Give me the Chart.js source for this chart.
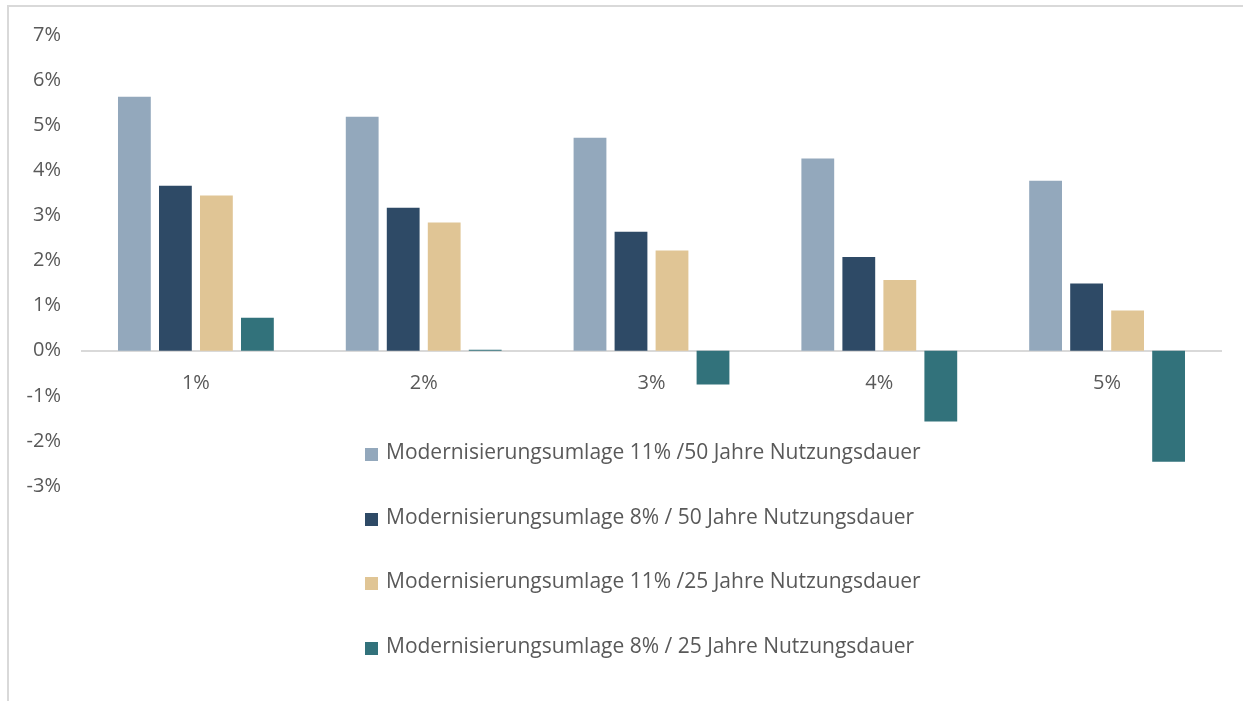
<!DOCTYPE html>
<html>
<head>
<meta charset="utf-8">
<script src="https://cdn.jsdelivr.net/npm/chart.js@4/dist/chart.umd.min.js"></script>
<style>
  html, body { margin: 0; padding: 0; background: #fff; }
  #wrap { position: relative; width: 1243px; height: 701px; overflow: hidden; }
  #frame { position: absolute; left: 7px; top: 5px; width: 1300px; height: 800px;
           border-left: 2px solid #d9d9d9; border-top: 2px solid #d9d9d9; box-sizing: border-box; }
  #chart { position: absolute; left: 0; top: 0; }
  #legend { position: absolute; left: 365px; top: 437px; font-family: "Open Sans", sans-serif;
            font-size: 21px; color: #595959; }
  .item { height: 64.5px; display: flex; align-items: flex-start; white-space: nowrap; }
  .box { width: 13px; height: 13px; margin-right: 8px; margin-top: 11px; }
</style>
</head>
<body>
<div id="wrap">
  <div id="frame"></div>
  <canvas id="chart" width="1243" height="701"></canvas>
  <div id="legend"></div>
</div>
<script>
// categories (interest rate)
const categories = ['1%', '2%', '3%', '4%', '5%'];

// series values in percent
const umlage11_50 = [5.63, 5.19, 4.72, 4.26, 3.77];
const umlage8_50 = [3.66, 3.17, 2.64, 2.08, 1.49];
const umlage11_25 = [3.44, 2.84, 2.22, 1.57, 0.89];
const umlage8_25 = [0.73, 0.02, -0.75, -1.57, -2.46];

const seriesNames = [
  'Modernisierungsumlage 11% /50 Jahre Nutzungsdauer',
  'Modernisierungsumlage 8% / 50 Jahre Nutzungsdauer',
  'Modernisierungsumlage 11% /25 Jahre Nutzungsdauer',
  'Modernisierungsumlage 8% / 25 Jahre Nutzungsdauer'
];
const seriesColors = ['#93a8bc', '#2e4a66', '#e0c595', '#32727b'];

const yMin = -3, yMax = 7;

const allValues = [umlage11_50, umlage8_50, umlage11_25, umlage8_25];
const datasets = allValues.map((vals, i) => ({
  label: seriesNames[i],
  data: vals,
  backgroundColor: seriesColors[i],
  categoryPercentage: 0.72,
  barPercentage: 0.8
}));

const tickFont = { family: '"Open Sans", sans-serif', size: 20 };

new Chart(document.getElementById('chart'), {
  type: 'bar',
  data: { labels: categories, datasets: datasets },
  options: {
    responsive: false,
    animation: false,
    layout: { padding: { left: 0, right: 22, top: 35, bottom: 215 } },
    plugins: { legend: { display: false }, tooltip: { enabled: false } },
    scales: {
      x: {
        position: { y: 0 },
        grid: { display: false },
        border: { display: true, color: '#d9d9d9', width: 2 },
        ticks: { color: '#595959', font: tickFont, padding: 13 }
      },
      y: {
        min: yMin,
        max: yMax,
        grid: { display: false },
        border: { display: false },
        afterFit: (scale) => { scale.width = 82; },
        ticks: {
          stepSize: 1,
          color: '#595959',
          font: tickFont,
          padding: 13,
          callback: (v) => v + '%'
        }
      }
    }
  }
});

// legend built from the series
const legend = document.getElementById('legend');
seriesNames.forEach((name, i) => {
  const row = document.createElement('div');
  row.className = 'item';
  const box = document.createElement('span');
  box.className = 'box';
  box.style.background = seriesColors[i];
  const txt = document.createElement('span');
  txt.textContent = name;
  row.appendChild(box);
  row.appendChild(txt);
  legend.appendChild(row);
});
</script>
</body>
</html>
